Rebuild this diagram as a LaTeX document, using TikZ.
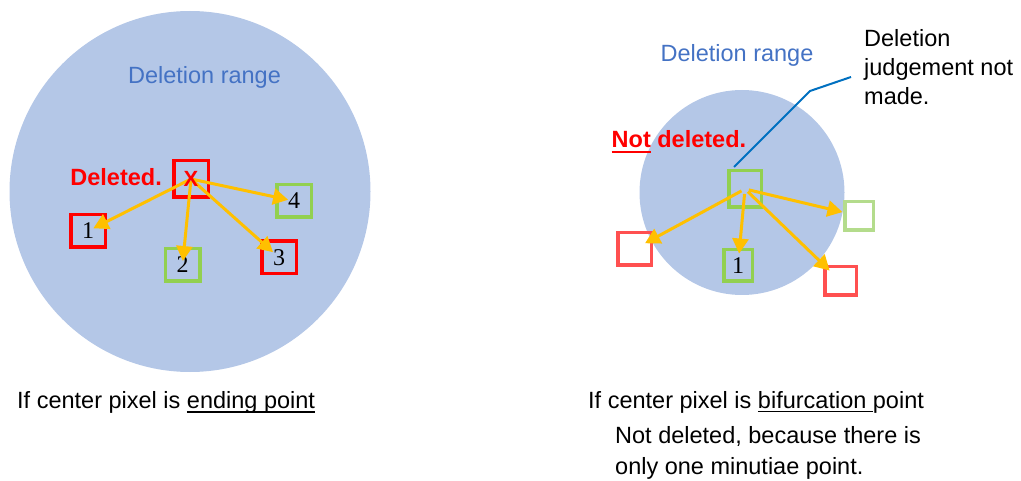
\documentclass[tikz,border=0pt]{standalone}
\usepackage{fontspec}
\setmainfont{Liberation Sans}
\newfontfamily\numfont{Liberation Serif}
\usetikzlibrary{arrows.meta}

\definecolor{rangeblue}{HTML}{B4C7E7}
\definecolor{labelblue}{HTML}{4472C4}
\definecolor{callblue}{HTML}{0070C0}
\definecolor{delred}{HTML}{FF0000}
\definecolor{keepgreen}{HTML}{92D050}
\definecolor{palered}{HTML}{FF5050}
\definecolor{palegreen}{HTML}{B4DC8C}
\definecolor{linkorange}{HTML}{FFC000}

% underline with a chosen thickness
\newcommand{\undl}[2][1.7pt]{\setbox0\hbox{#2}\rlap{\rule[\dimexpr-2.6pt-#1\relax]{\wd0}{#1}}\box0\relax}

\begin{document}
\begin{tikzpicture}[x=1pt, y=-1pt,
  mbox/.style={draw, line width=3.5pt, inner sep=0pt, minimum width=34.5pt, minimum height=32.5pt,
               font=\numfont\fontsize{24}{24}\selectfont},
  feed/.style={draw=linkorange, line width=3pt, -{Triangle[length=15pt,width=16pt]}},
  txt/.style={inner sep=0pt, font=\fontsize{23.5}{29.3}\selectfont}]

  %% ════ deletion ranges ════
  \fill[rangeblue] (190.0,191.5) circle (180.5);
  \fill[rangeblue] (742.0,192.5) circle (102.5);

  %% ════ left: ending point ════
  \node[mbox, draw=delred, minimum height=36.5pt] (x) at (191.0,179.0) {};   % box(173,159,36,40)
  \node[mbox, draw=delred]    (b1) at (88.0,231.0)  {1};   % box(69,213,38,36)
  \node[mbox, draw=keepgreen] (b2) at (182.5,265.0) {2};   % box(163,247,39,36)
  \node[mbox, draw=delred]    (b3) at (279.0,257.5) {3};   % box(260,239,38,37)
  \node[mbox, draw=keepgreen] (b4) at (294.0,201.0) {4};   % box(275,183,38,36)

  \draw[feed, shorten <=2pt, shorten >=6pt] (x.center) -- (b1.center);
  \draw[feed, shorten <=2pt, shorten >=4pt] (x.center) -- (b2.center);
  \draw[feed, shorten <=2pt, shorten >=8pt] (x.center) -- (b3.center);
  \draw[feed, shorten <=2pt, shorten >=6pt] (x.center) -- (b4.center);

  % X sits on top of the arrow tails
  \node[inner sep=0pt, text=delred, font=\bfseries\fontsize{22}{22}\selectfont] (xlab) at (x.center) {X};

  %% ════ right: bifurcation point ════
  \node[mbox, draw=keepgreen, minimum width=32.5pt, minimum height=36.5pt] (cc) at (745.0,189.0) {};
  \node[mbox, draw=palered, minimum width=33.5pt]  (r1) at (634.5,249.0) {};
  \node[mbox, draw=keepgreen, minimum width=28.5pt, minimum height=31.5pt] (r2) at (738.0,265.5) {1};
  \node[mbox, draw=palegreen, minimum width=28.5pt, minimum height=28.5pt] (r3) at (859.0,216.0) {};
  \node[mbox, draw=palered, minimum width=31.5pt, minimum height=28.5pt]   (r4) at (840.5,281.0) {};

  \draw[feed, shorten <=4pt, shorten >=12pt] (cc.center) -- (r1.center);
  \draw[feed, shorten <=5pt, shorten >=12pt] (cc.center) -- (r2.center);
  \draw[feed, shorten <=4pt, shorten >=17pt] (cc.center) -- (r3.center);
  \draw[feed, shorten <=4pt, shorten >=15pt] (cc.center) -- (r4.center);

  %% ════ callout line ════
  \coordinate (knee) at (810.0,91.0);
  \coordinate (callend) at (851.0,77.0);
  \draw[callblue, line width=2pt] ([xshift=-11pt, yshift=2pt]cc.north) -- (knee) -- (callend);

  %% ════ labels ════
  %% multi-line nodes: base = baseline of the last line
  \node[txt, anchor=base, text=labelblue] (lrange) at (204.5,84.0) {Deletion range};
  \node[txt, anchor=base, text=labelblue] (rrange) at (737.0,62.0) {Deletion range};
  \node[txt, anchor=base east, text=delred, font=\bfseries\fontsize{23.5}{29.3}\selectfont]
    (deleted) at (162.0,186.0) {Deleted.};
  \node[txt, anchor=base west, text=delred, font=\bfseries\fontsize{23.5}{29.3}\selectfont]
    (notdel) at (611.5,148.0) {\undl[2.7pt]{Not} deleted.};
  \node[txt, anchor=base west, align=left] (judge) at (864.0,105.0) {Deletion\\judgement not\\made.};

  \node[txt, anchor=base west] (lcap) at (17.0,408.5) {If center pixel is \undl{ending point}};
  \node[txt, anchor=base west] (rcap) at (588.0,408.0) {If center pixel is \undl{bifurcation\ }point};
  \node[txt, anchor=base west, align=left, font=\fontsize{23.5}{31}\selectfont]
    (why) at (615.0,474.0) {Not deleted, because there is\\only one minutiae point.};

  \pgfresetboundingbox
  \path[use as bounding box] (0,0) rectangle (1021,481);
\end{tikzpicture}
\end{document}
